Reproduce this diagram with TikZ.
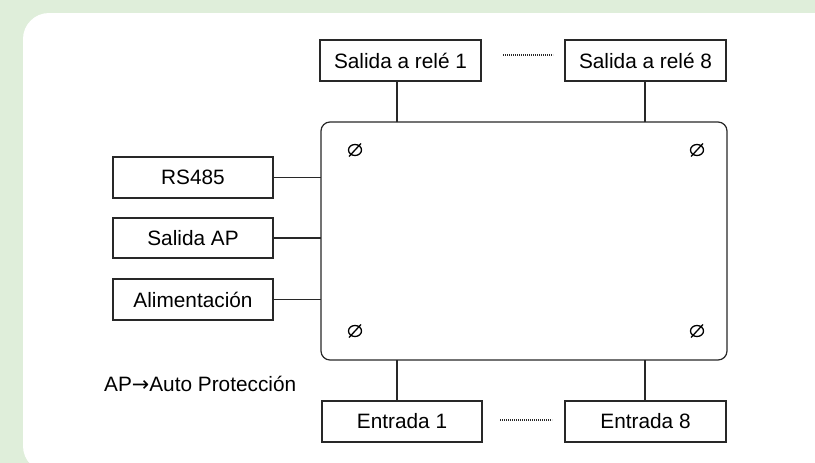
\documentclass[tikz,border=0pt]{standalone}
\usepackage{fontspec}
\setmainfont{Liberation Sans}
\newfontfamily\arrowfont{DejaVu Sans}
\definecolor{panelgreen}{RGB}{223,238,218}
\definecolor{linegray}{RGB}{40,40,40}
\begin{document}
\begin{tikzpicture}[x=1pt,y=-1pt,
  box/.style={draw=linegray,line width=1.2pt,fill=white,inner sep=0pt,font=\fontsize{20.8}{24}\selectfont},
  wire/.style={draw=linegray,line width=1.2pt},
  dots/.style={draw=linegray,line width=1.1pt,dash pattern=on 1.1pt off 0.9pt},
  screw/.style={draw=black,line width=1.3pt}]
\useasboundingbox (0,0) rectangle (815,463);
\fill[panelgreen] (0,0) rectangle (815,463);
\fill[white,rounded corners=26pt] (23,13) rectangle (850,472);
% main box
\draw[line width=1.2pt,draw=linegray,rounded corners=9pt] (321,122) rectangle (727,360);
\coordinate (mainNW) at (321,122);
% top boxes
\node[box,minimum width=161pt,minimum height=41pt] (r1) at (400.5,60.5) {Salida a relé 1};
\node[box,minimum width=161pt,minimum height=41pt] (r8) at (645.5,60.5) {Salida a relé 8};
% bottom boxes
\node[box,minimum width=160pt,minimum height=41pt] (e1) at (402,421.5) {Entrada 1};
\node[box,minimum width=161pt,minimum height=41pt] (e8) at (645.5,421.5) {Entrada 8};
% left boxes
\node[box,minimum width=160pt,minimum height=41pt] (rs) at (193,177.5) {RS485};
\node[box,minimum width=160pt,minimum height=40pt] (ap) at (193,238) {Salida AP};
\node[box,minimum width=160pt,minimum height=41pt] (al) at (193,299.5) {Alimentación};
% connection points on main box
\coordinate (t1) at (397,122);
\coordinate (t8) at (645,122);
\coordinate (b1) at (397,360);
\coordinate (b8) at (645,360);
\draw[wire] (t1) -- (t1 |- r1.south);
\draw[wire] (t8) -- (t8 |- r8.south);
\draw[wire] (b1) -- (b1 |- e1.north);
\draw[wire] (b8) -- (b8 |- e8.north);
\draw[wire] (rs.east) -- (rs.east -| mainNW);
\draw[wire] (ap.east) -- (ap.east -| mainNW);
\draw[wire] (al.east) -- (al.east -| mainNW);
% dotted separators
\coordinate (dt1) at (503,55);
\coordinate (dt2) at (553,55);
\coordinate (db1) at (500,420);
\coordinate (db2) at (552,420);
\draw[dots] (dt1) -- (dt2);
\draw[dots] (db1) -- (db2);
% screws
\foreach \sx/\sy in {355/150, 697/150, 355/331, 697/331}{
  \draw[screw] (\sx,\sy) ellipse (6.5pt and 5.5pt);
  \draw[screw] (\sx-6,\sy+6.5) -- (\sx+6,\sy-6.5);
}
% legend
\node[anchor=west,inner sep=0pt,font=\fontsize{20.8}{24}\selectfont] (legend) at (104,384) {AP{\arrowfont →}Auto Protección};
\end{tikzpicture}
\end{document}
